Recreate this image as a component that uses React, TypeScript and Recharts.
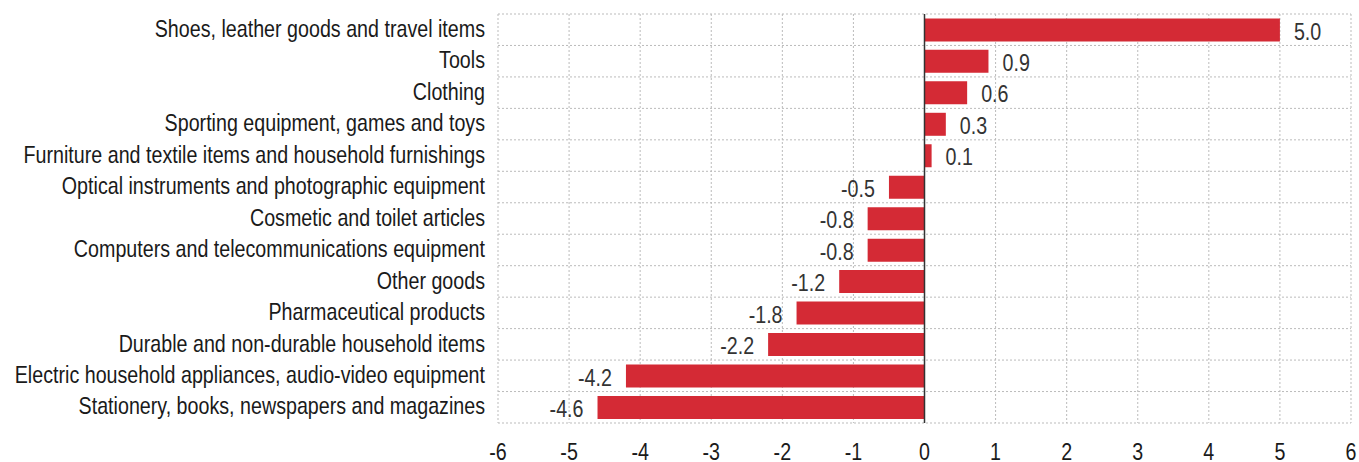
import React from 'react'
import { BarChart, Bar, XAxis, YAxis, CartesianGrid, ReferenceLine, LabelList } from 'recharts'

const categories = [
  'Shoes, leather goods and travel items',
  'Tools',
  'Clothing',
  'Sporting equipment, games and toys',
  'Furniture and textile items and household furnishings',
  'Optical instruments and photographic equipment',
  'Cosmetic and toilet articles',
  'Computers and telecommunications equipment',
  'Other goods',
  'Pharmaceutical products',
  'Durable and non-durable household items',
  'Electric household appliances, audio-video equipment',
  'Stationery, books, newspapers and magazines',
]

const values = [5.0, 0.9, 0.6, 0.3, 0.1, -0.5, -0.8, -0.8, -1.2, -1.8, -2.2, -4.2, -4.6]

const xTicks = [-6, -5, -4, -3, -2, -1, 0, 1, 2, 3, 4, 5, 6]

const FONT = '"Liberation Sans", Arial, sans-serif'
const FS = 24
// squeeze the glyphs horizontally to mimic the narrow face of the original
const SX = 0.82
const BAR = '#d42a35'

const data = categories.map((name, i) => ({ name, value: values[i] }))

function NarrowText({ x, y, anchor, fill, dy = '0.36em', children }: any) {
  return (
    <text
      transform={`translate(${x},${y}) scale(${SX},1)`}
      dy={dy}
      textAnchor={anchor}
      fontSize={FS}
      fontFamily={FONT}
      fill={fill}
    >
      {children}
    </text>
  )
}

function CategoryTick(props: any) {
  const { x, y, payload } = props
  return <NarrowText x={x} y={y} dy="0.3em" anchor="end" fill="#1a1a1a">{payload.value}</NarrowText>
}

function NumberTick(props: any) {
  const { x, y, payload } = props
  return <NarrowText x={x} y={y + 8} anchor="middle" fill="#1a1a1a">{payload.value}</NarrowText>
}

// value label sits outside the bar end, on whichever side the bar grows
function ValueLabel(props: any) {
  const { x, y, width, height, value } = props
  const left = Math.min(x, x + width)
  const right = Math.max(x, x + width)
  const pos = value >= 0
  return (
    <NarrowText x={pos ? right + 14 : left - 14} y={y + height / 2 + 1} anchor={pos ? 'start' : 'end'} fill="#333">
      {value.toFixed(1)}
    </NarrowText>
  )
}

export default function App() {
  return (
    <div style={{ width: 1359, height: 462 }}>
      <style>{'body{margin:0}'}</style>
      <BarChart
        width={1359}
        height={462}
        data={data}
        layout="vertical"
        margin={{ top: 14, right: 8, bottom: 0, left: 0 }}
        barCategoryGap="14%"
      >
        <CartesianGrid
          stroke="#bbb"
          strokeDasharray="2 2"
          horizontalCoordinatesGenerator={({ offset }: any) =>
            categories.map((_, i) => offset.top + (i * offset.height) / categories.length).concat(offset.top + offset.height)
          }
        />
        <XAxis
          type="number"
          domain={[-6, 6]}
          ticks={xTicks}
          axisLine={false}
          tickLine={false}
          height={39}
          tickMargin={14}
          tick={<NumberTick />}
        />
        <YAxis
          type="category"
          dataKey="name"
          width={498}
          axisLine={false}
          tickLine={false}
          tickMargin={7}
          interval={0}
          tick={<CategoryTick />}
        />
        <Bar dataKey="value" fill={BAR} isAnimationActive={false}>
          <LabelList dataKey="value" content={ValueLabel} />
        </Bar>
        <ReferenceLine x={0} stroke="#333" strokeWidth={1.5} />
      </BarChart>
    </div>
  )
}
